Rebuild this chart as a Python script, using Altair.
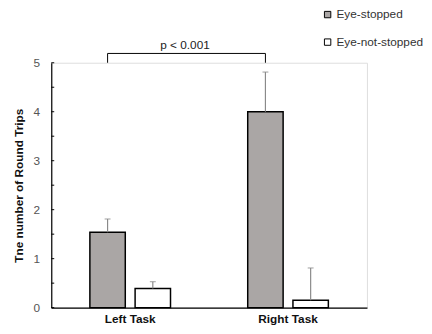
import altair as alt
import pandas as pd

tasks = ["Left Task", "Left Task", "Right Task", "Right Task"]
conditions = ["Eye-stopped", "Eye-not-stopped", "Eye-stopped", "Eye-not-stopped"]
means = [1.54, 0.39, 4.00, 0.15]
errors = [0.27, 0.14, 0.81, 0.66]

y_ticks = [0, 0.5, 1, 1.5, 2, 2.5, 3, 3.5, 4, 4.5, 5]
bracket_tasks = ["Left Task", "Left Task", "Right Task", "Right Task"]
bracket_y = [5.0, 5.19, 5.19, 5.0]
p_label = "p < 0.001"

df = pd.DataFrame({"task": tasks, "cond": conditions, "mean": means, "err": errors})
df["upper"] = df["mean"] + df["err"]
bracket = pd.DataFrame({"task": bracket_tasks, "cond": ["Eye-stopped"] * 4,
                        "y": bracket_y, "order": [0, 1, 2, 3]})
ticks_df = pd.DataFrame({"v": y_ticks})

FONT = "Liberation Sans"
cond_order = ["Eye-stopped", "Eye-not-stopped"]

x = alt.X("task:N", title=None, scale=alt.Scale(paddingInner=0, paddingOuter=0),
          axis=alt.Axis(labelAngle=0, ticks=False, domainColor="black", domainWidth=1.2,
                        labelFont=FONT, labelFontWeight="bold", labelFontSize=12,
                        labelColor="#111", labelPadding=6))
xoff = alt.XOffset("cond:N", sort=cond_order,
                   scale=alt.Scale(paddingInner=0.2, paddingOuter=0.845))
yscale = alt.Scale(domain=[0, 5], nice=False)

bars = alt.Chart(df).mark_bar(stroke="black", strokeWidth=1.5, size=36).encode(
    x=x,
    xOffset=xoff,
    y=alt.Y("mean:Q", scale=yscale, title="Tne number of Round Trips",
            axis=alt.Axis(values=[0, 1, 2, 3, 4, 5], ticks=False, grid=False,
                          domainColor="black", domainWidth=1.2,
                          labelFont=FONT, labelFontSize=12, labelColor="#555",
                          labelPadding=12, titleFont=FONT, titleFontSize=12,
                          titleFontWeight="bold", titleColor="#111", titlePadding=8)),
    color=alt.Color("cond:N", sort=cond_order,
                    scale=alt.Scale(domain=cond_order, range=["#aaa6a5", "#ffffff"]),
                    legend=alt.Legend(title=None, orient="none", legendX=275, legendY=-55,
                                      symbolType="square", symbolSize=42,
                                      symbolStrokeColor="black", symbolStrokeWidth=1,
                                      labelFont=FONT, labelFontSize=12, labelColor="#333",
                                      rowPadding=16, labelOffset=3)),
)

err_rule = alt.Chart(df).mark_rule(color="#8a8a8a", strokeWidth=1.2).encode(
    x="task:N", xOffset=xoff, y="mean:Q", y2="upper:Q")
caps = alt.Chart(df).mark_tick(color="#8a8a8a", thickness=1.2, size=6, orient="horizontal").encode(
    x="task:N", xOffset=xoff, y="upper:Q")

yticks = alt.Chart(ticks_df).mark_rule(color="black", strokeWidth=1).encode(
    y=alt.Y("v:Q", scale=yscale), x=alt.value(0), x2=alt.value(3))

bracket_line = alt.Chart(bracket).mark_line(color="black", strokeWidth=1, clip=False).encode(
    x="task:N", xOffset=xoff, y=alt.Y("y:Q", scale=yscale), order="order:Q")
p_text = alt.Chart(pd.DataFrame({"t": [p_label], "y": [5.36]})).mark_text(
    font=FONT, fontSize=12, color="#222", clip=False).encode(
    text="t:N", x=alt.value(136), y=alt.Y("y:Q", scale=yscale))

chart = alt.layer(bars, err_rule, caps, yticks, bracket_line, p_text).properties(
    width=321, height=249,
    autosize=alt.AutoSizeParams(type="none"),
    padding={"left": 44, "top": 53, "right": 58, "bottom": 16},
).configure_view(stroke=None).configure(background="white")

chart.save("out.html", embed_options={"renderer": "svg", "actions": False})
